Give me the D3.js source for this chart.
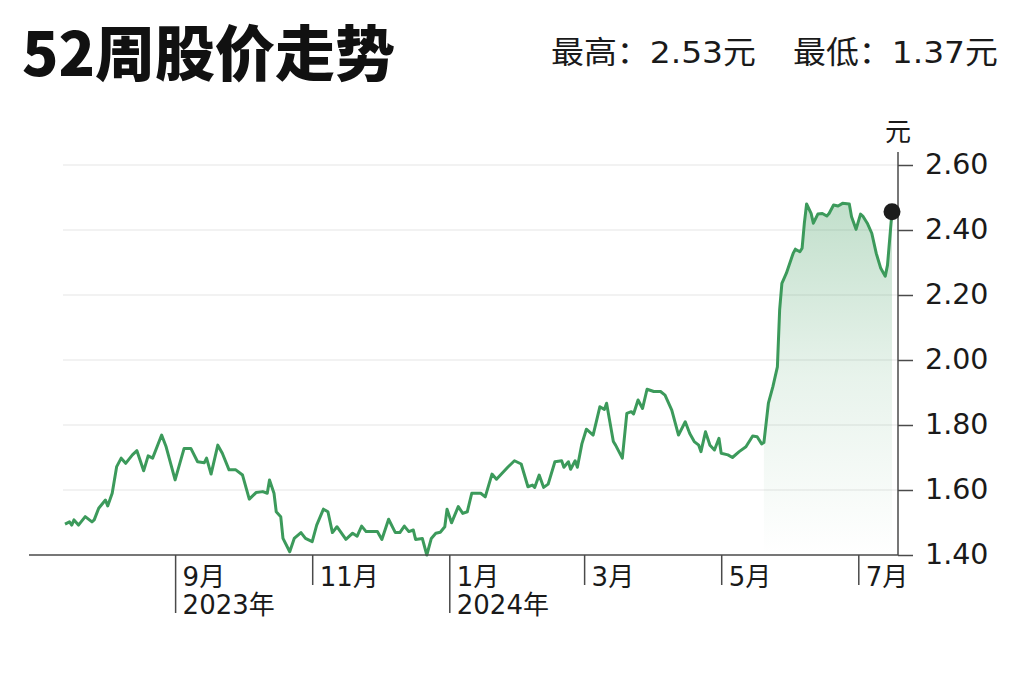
<!DOCTYPE html>
<html>
<head>
<meta charset="utf-8">
<script src="https://cdn.jsdelivr.net/npm/d3@7"></script>
<style>
  html, body { margin: 0; padding: 0; background: #fff; }
  svg { display: block; }
</style>
</head>
<body>
<svg id="chart" width="1024" height="682"></svg>
<script>
// 52-week price (yuan)
const dates = [
  "2023-07-14","2023-07-16","2023-07-17","2023-07-18","2023-07-20","2023-07-23","2023-07-26","2023-07-27","2023-07-29",
  "2023-08-01","2023-08-02","2023-08-04","2023-08-06","2023-08-08","2023-08-10","2023-08-13","2023-08-15","2023-08-18",
  "2023-08-20","2023-08-22","2023-08-26","2023-08-28",
  "2023-09-01","2023-09-05","2023-09-08","2023-09-11","2023-09-14","2023-09-15","2023-09-17","2023-09-20","2023-09-22",
  "2023-09-25","2023-09-28",
  "2023-10-01","2023-10-04","2023-10-07","2023-10-10","2023-10-12","2023-10-13","2023-10-15","2023-10-16","2023-10-18",
  "2023-10-19","2023-10-22","2023-10-24","2023-10-27","2023-10-29",
  "2023-11-01","2023-11-03","2023-11-06","2023-11-08","2023-11-10","2023-11-12","2023-11-16","2023-11-19","2023-11-21",
  "2023-11-23","2023-11-25","2023-11-30",
  "2023-12-02","2023-12-05","2023-12-08","2023-12-10","2023-12-12","2023-12-14","2023-12-16","2023-12-17","2023-12-20",
  "2023-12-22","2023-12-24","2023-12-26","2023-12-28","2023-12-30","2023-12-31",
  "2024-01-02","2024-01-05","2024-01-07","2024-01-09","2024-01-11","2024-01-15","2024-01-17","2024-01-20","2024-01-22",
  "2024-01-27","2024-01-30",
  "2024-02-02","2024-02-05","2024-02-07","2024-02-08","2024-02-10","2024-02-12","2024-02-14","2024-02-17","2024-02-20",
  "2024-02-21","2024-02-23","2024-02-24","2024-02-26","2024-02-27","2024-02-29",
  "2024-03-02","2024-03-05","2024-03-08","2024-03-10","2024-03-11","2024-03-14","2024-03-15","2024-03-18","2024-03-20",
  "2024-03-22","2024-03-23","2024-03-25","2024-03-27","2024-03-29",
  "2024-04-01","2024-04-04","2024-04-06","2024-04-09","2024-04-12","2024-04-15","2024-04-17","2024-04-19","2024-04-21",
  "2024-04-22","2024-04-24","2024-04-26","2024-04-28","2024-04-30",
  "2024-05-01","2024-05-04","2024-05-06","2024-05-09","2024-05-12","2024-05-15","2024-05-17","2024-05-19","2024-05-20",
  "2024-05-22","2024-05-24","2024-05-26","2024-05-27","2024-05-28","2024-05-30",
  "2024-06-02","2024-06-03","2024-06-05","2024-06-06","2024-06-07","2024-06-08","2024-06-10","2024-06-11","2024-06-13",
  "2024-06-15","2024-06-17","2024-06-18","2024-06-20","2024-06-22","2024-06-24","2024-06-27","2024-06-28","2024-06-30",
  "2024-07-02","2024-07-03","2024-07-05","2024-07-07","2024-07-09","2024-07-11","2024-07-13","2024-07-14","2024-07-16"
];
const prices = [
  1.495,1.502,1.492,1.508,1.492,1.518,1.502,1.508,1.544,
  1.569,1.551,1.590,1.672,1.698,1.682,1.708,1.721,1.659,
  1.705,1.698,1.769,1.733,
  1.631,1.728,1.728,1.687,1.684,1.698,1.649,1.738,1.713,
  1.662,1.662,
  1.646,1.572,1.592,1.595,1.590,1.631,1.590,1.533,1.518,
  1.451,1.410,1.451,1.469,1.451,
  1.441,1.492,1.541,1.533,1.469,1.487,1.448,1.467,1.458,
  1.489,1.472,1.472,
  1.448,1.510,1.469,1.469,1.489,1.472,1.477,1.448,1.451,
  1.400,1.451,1.467,1.470,1.487,1.541,
  1.499,1.549,1.528,1.533,1.590,1.590,1.579,1.649,1.633,
  1.670,1.690,
  1.680,1.610,1.615,1.608,1.646,1.608,1.618,1.687,1.690,
  1.670,1.687,1.664,1.690,1.670,1.742,
  1.787,1.769,1.856,1.848,1.867,1.749,1.738,1.698,1.836,
  1.841,1.834,1.877,1.851,1.910,
  1.903,1.903,1.892,1.846,1.769,1.810,1.774,1.749,1.738,
  1.718,1.779,1.738,1.723,1.759,
  1.713,1.708,1.700,1.718,1.733,1.766,1.764,1.742,1.746,
  1.867,1.918,1.979,2.154,2.236,2.267,
  2.328,2.341,2.333,2.344,2.421,2.480,2.451,2.421,2.449,
  2.451,2.443,2.451,2.477,2.474,2.482,2.480,2.441,2.402,
  2.449,2.443,2.421,2.390,2.328,2.282,2.258,2.292,2.456
];
const fillStart = "2024-05-20";

const yTicks = [1.40, 1.60, 1.80, 2.00, 2.20, 2.40, 2.60];
const monthTicks = ["2023-09-01","2023-11-01","2024-01-01","2024-03-01","2024-05-01","2024-07-01"];
const monthLabels = ["9月","11月","1月","3月","5月","7月"];
const yearLabels = ["2023年","","2024年","","",""];

const title = "52周股价走势";
const highText = "最高：2.53元";
const lowText = "最低：1.37元";
const unitText = "元";

const color = {
  line: "#3c9a5b",
  axis: "#4a4a4a",
  grid: "#e6e6e6",
  text: "#1a1a1a",
  dot: "#1c1c1c"
};

const parse = d3.timeParse("%Y-%m-%d");
const data = dates.map((d, i) => ({ date: parse(d), value: prices[i] }));

const svg = d3.select("#chart");
const cjk = "'Noto Sans CJK SC', 'Noto Sans', sans-serif";
const num = "'DejaVu Sans', 'Noto Sans CJK SC', sans-serif";

// scales
const x = d3.scaleTime()
  .domain([parse("2023-07-14"), parse("2024-07-16")])
  .range([65, 892]);

const y = d3.scaleLinear()
  .domain([1.4, 2.6])
  .range([555, 165]);

const axisX = 898; // right axis position
const plotLeft = 63;

// header
svg.append("text")
  .attr("x", 22)
  .attr("y", 76)
  .attr("font-family", cjk)
  .attr("font-weight", 900)
  .attr("font-size", 60)
  .attr("fill", "#111")
  .text(title);

svg.append("text")
  .attr("x", 551)
  .attr("y", 63)
  .attr("font-family", num)
  .attr("font-size", 31)
  .attr("fill", color.text)
  .attr("textLength", 205)
  .attr("lengthAdjust", "spacingAndGlyphs")
  .text(highText);

svg.append("text")
  .attr("x", 793)
  .attr("y", 63)
  .attr("font-family", num)
  .attr("font-size", 31)
  .attr("fill", color.text)
  .attr("textLength", 205)
  .attr("lengthAdjust", "spacingAndGlyphs")
  .text(lowText);

// gradient for the surge area
const defs = svg.append("defs");
const grad = defs.append("linearGradient")
  .attr("id", "fadeGreen")
  .attr("gradientUnits", "userSpaceOnUse")
  .attr("x1", 0).attr("x2", 0)
  .attr("y1", y(2.5)).attr("y2", y(1.4));
grad.append("stop").attr("offset", 0).attr("stop-color", color.line).attr("stop-opacity", 0.32);
grad.append("stop").attr("offset", 0.5).attr("stop-color", color.line).attr("stop-opacity", 0.12);
grad.append("stop").attr("offset", 1).attr("stop-color", color.line).attr("stop-opacity", 0);

// horizontal grid lines
svg.append("g")
  .attr("class", "grid")
  .selectAll("line")
  .data(yTicks.filter((d) => d > 1.4))
  .join("line")
  .attr("x1", plotLeft)
  .attr("x2", axisX)
  .attr("y1", (d) => y(d))
  .attr("y2", (d) => y(d))
  .attr("stroke", color.grid)
  .attr("stroke-width", 1.2);

// area under the late surge
const fillFrom = parse(fillStart);
svg.append("path")
  .datum(data.filter((d) => d.date >= fillFrom))
  .attr("fill", "url(#fadeGreen)")
  .attr("d", d3.area()
    .x((d) => x(d.date))
    .y0(y(1.4))
    .y1((d) => y(d.value)));

// price line
svg.append("path")
  .datum(data)
  .attr("fill", "none")
  .attr("stroke", color.line)
  .attr("stroke-width", 3)
  .attr("stroke-linejoin", "round")
  .attr("d", d3.line()
    .x((d) => x(d.date))
    .y((d) => y(d.value)));

// bottom axis line
svg.append("line")
  .attr("x1", 29).attr("x2", axisX)
  .attr("y1", y(1.4)).attr("y2", y(1.4))
  .attr("stroke", color.axis)
  .attr("stroke-width", 1.5);

// month ticks
const xAxis = svg.append("g")
  .attr("transform", `translate(0,${y(1.4)})`)
  .call(d3.axisBottom(x)
    .tickValues(monthTicks.map(parse))
    .tickSize(30)
    .tickFormat(""))
  .call((g) => g.select(".domain").remove());

xAxis.selectAll(".tick line")
  .attr("stroke", color.axis)
  .attr("stroke-width", 1.5)
  .attr("y2", (d, i) => (yearLabels[i] ? 58 : 30));

const tickG = xAxis.selectAll(".tick");
tickG.append("text")
  .attr("x", 7)
  .attr("y", 31)
  .attr("text-anchor", "start")
  .attr("fill", color.text)
  .attr("font-family", num)
  .attr("font-size", 26)
  .text((d, i) => monthLabels[i]);

tickG.append("text")
  .attr("x", 7)
  .attr("y", 59)
  .attr("text-anchor", "start")
  .attr("fill", color.text)
  .attr("font-family", num)
  .attr("font-size", 26)
  .text((d, i) => yearLabels[i]);

// right value axis
const yAxis = svg.append("g")
  .attr("transform", `translate(${axisX},0)`)
  .call(d3.axisRight(y)
    .tickValues(yTicks)
    .tickSize(15)
    .tickPadding(12)
    .tickFormat(d3.format(".2f")))
  .call((g) => g.select(".domain").remove());

yAxis.selectAll(".tick line")
  .attr("stroke", color.axis)
  .attr("stroke-width", 1.5);

yAxis.selectAll(".tick text")
  .attr("fill", color.text)
  .attr("font-family", num)
  .attr("font-size", 28.5)
  .attr("dy", "0.3em");

yAxis.append("line")
  .attr("x1", 0).attr("x2", 0)
  .attr("y1", y(2.6) - 13)
  .attr("y2", y(1.4))
  .attr("stroke", color.axis)
  .attr("stroke-width", 1.5);

svg.append("text")
  .attr("x", axisX)
  .attr("y", 141)
  .attr("text-anchor", "middle")
  .attr("font-family", cjk)
  .attr("font-size", 26)
  .attr("fill", color.text)
  .text(unitText);

// last close marker
const last = data[data.length - 1];
svg.append("circle")
  .attr("cx", x(last.date))
  .attr("cy", y(last.value))
  .attr("r", 8.5)
  .attr("fill", color.dot);
</script>
</body>
</html>
